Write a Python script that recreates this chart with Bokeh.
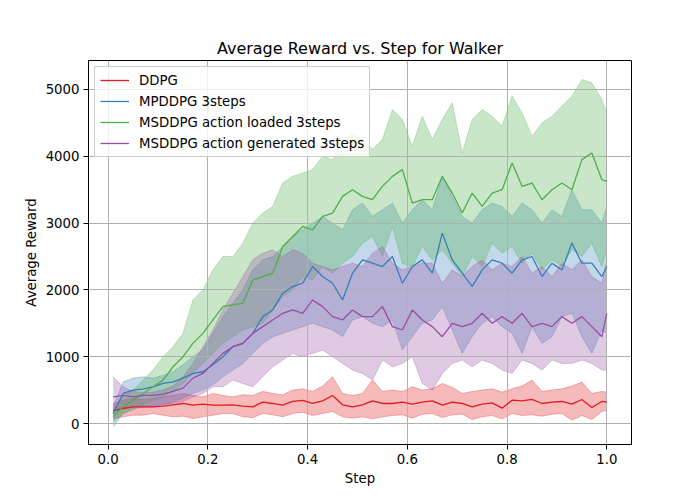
from bokeh.plotting import figure
from bokeh.models import FixedTicker, Range1d, Label
from bokeh.embed import file_html
from bokeh.resources import INLINE

steps = [10000 + 20000 * i for i in range(50)] + [1000000]

ddpg_mean = [190, 225, 250, 250, 250, 260, 280, 300, 275, 290, 275, 275, 280,
             260, 250, 320, 300, 275, 330, 345, 300, 340, 420, 280, 250, 280,
             340, 300, 300, 320, 290, 320, 340, 275, 320, 300, 250, 290, 310,
             230, 350, 340, 360, 300, 320, 330, 290, 360, 240, 330, 320]
ddpg_upper = [300, 350, 375, 360, 375, 400, 425, 450, 420, 400, 450, 420, 400,
              430, 420, 480, 450, 430, 500, 520, 480, 560, 700, 450, 420, 450,
              650, 480, 500, 480, 550, 500, 520, 600, 540, 450, 480, 500, 520,
              470, 520, 560, 650, 480, 500, 520, 560, 620, 450, 480, 470]
ddpg_lower = [75, 100, 125, 125, 150, 125, 100, 110, 75, 100, 125, 150, 150,
              100, 90, 150, 130, 100, 150, 170, 120, 150, 180, 100, 80, 100,
              70, 100, 120, 130, 80, 140, 150, 90, 130, 140, 60, 100, 120,
              70, 150, 120, 130, 110, 140, 150, 50, 120, 60, 180, 200]

mp_mean = [150, 450, 500, 520, 550, 600, 625, 680, 750, 775, 880, 1000, 1150,
           1200, 1350, 1600, 1700, 1950, 2050, 2100, 2350, 2200, 2100, 1850, 2250, 2450,
           2400, 2350, 2500, 2100, 2350, 2450, 2250, 2850, 2450, 2250, 2050, 2300, 2450,
           2400, 2250, 2450, 2500, 2200, 2400, 2300, 2700, 2400, 2400, 2200, 2350]
mp_upper = [250, 620, 680, 700, 680, 720, 780, 880, 1000, 1100, 1350, 1600, 1800,
            2000, 2300, 2450, 2500, 2650, 2800, 2900, 3000, 3100, 3000, 2900, 3200, 3300,
            3100, 3200, 3300, 3000, 3200, 3350, 3200, 3700, 3400, 3100, 3000, 3200, 3300,
            3250, 3100, 3300, 3200, 3000, 3200, 3100, 3500, 3200, 3200, 3000, 3250]
mp_lower = [-50, 150, 225, 240, 250, 280, 320, 380, 450, 500, 580, 700, 800,
            900, 1050, 1200, 1300, 1350, 1400, 1450, 1500, 1450, 1400, 1300, 1550, 1600,
            1500, 1450, 1550, 1100, 1300, 1500, 1550, 1750, 1400, 1050, 1300, 1500, 1600,
            1450, 1350, 1050, 1450, 1200, 1300, 1600, 1650, 1300, 1050, 1400, 1350]

msl_mean = [100, 250, 350, 450, 550, 650, 850, 1000, 1200, 1350, 1550, 1750, 1780,
            1800, 2150, 2200, 2250, 2650, 2800, 2950, 2900, 3100, 3150, 3400, 3500, 3400,
            3350, 3550, 3700, 3800, 3300, 3350, 3350, 3700, 3450, 3150, 3450, 3250, 3450,
            3500, 3900, 3550, 3600, 3350, 3500, 3600, 3500, 3950, 4050, 3650, 3625]
msl_upper = [200, 400, 500, 650, 800, 1000, 1150, 1350, 1850, 2000, 2300, 2500, 2500,
             2700, 3000, 3150, 3250, 3600, 3700, 3750, 3800, 4000, 3950, 4200, 4350, 4250,
             4100, 4250, 4700, 4550, 4150, 4600, 4250, 4550, 4800, 4050, 4550, 4700, 4600,
             4450, 4900, 4650, 4300, 4500, 4600, 4750, 4900, 5150, 5100, 4850, 4650]
msl_lower = [25, 150, 200, 280, 350, 400, 480, 600, 750, 900, 1050, 1200, 1300,
             1400, 1450, 1500, 1700, 1900, 2000, 2200, 2150, 2350, 2250, 2400, 2500, 2700,
             2800, 2500, 2950, 2400, 2350, 2650, 2450, 2600, 2400, 2200, 2500, 2350, 2700,
             2550, 2650, 2400, 2550, 2300, 2450, 2350, 2600, 2500, 2700, 2350, 2600]

msg_mean = [400, 420, 400, 420, 420, 440, 480, 530, 680, 750, 900, 1050, 1150,
            1200, 1350, 1450, 1550, 1650, 1700, 1650, 1850, 1750, 1600, 1550, 1700, 1600,
            1600, 1750, 1450, 1400, 1700, 1550, 1450, 1300, 1500, 1450, 1500, 1650, 1500,
            1600, 1500, 1650, 1450, 1500, 1450, 1600, 1500, 1600, 1450, 1300, 1650]
msg_upper = [700, 550, 480, 460, 470, 500, 560, 700, 900, 1150, 1400, 1700, 1950,
             2200, 2450, 2550, 2600, 2500, 2600, 2550, 2400, 2350, 2300, 2350, 2400, 2350,
             2550, 2650, 2400, 2300, 2350, 2400, 2400, 2100, 2300, 2200, 2350, 2450, 2300,
             2400, 2350, 2500, 2250, 2350, 2200, 2400, 2300, 2450, 2200, 2100, 2450]
msg_lower = [200, 230, 250, 260, 270, 290, 300, 330, 400, 450, 550, 550, 650,
             600, 550, 700, 850, 950, 1050, 1000, 1050, 1100, 1000, 900, 800, 750,
             650, 950, 850, 900, 1000, 600, 500, 750, 900, 950, 850, 950, 900,
             800, 750, 950, 900, 800, 950, 900, 900, 950, 900, 800, 800]

names = ["DDPG", "MPDDPG 3steps", "MSDDPG action loaded 3steps", "MSDDPG action generated 3steps"]
colors = ["#e41a1c", "#377eb8", "#4daf4a", "#984ea3"]
means = [ddpg_mean, mp_mean, msl_mean, msg_mean]
uppers = [ddpg_upper, mp_upper, msl_upper, msg_upper]
lowers = [ddpg_lower, mp_lower, msl_lower, msg_lower]

x_ticks = [0, 200000, 400000, 600000, 800000, 1000000]
x_tick_labels = ["0.0", "0.2", "0.4", "0.6", "0.8", "1.0"]
y_ticks = [0, 1000, 2000, 3000, 4000, 5000]

FONT = "DejaVu Sans"

p = figure(width=692, height=492, output_backend="svg", toolbar_location=None,
           x_range=Range1d(-39500, 1049500), y_range=Range1d(-314, 5434),
           min_border_left=88, min_border_right=61, min_border_top=60, min_border_bottom=48,
           title="Average Reward vs. Step for Walker")
p.background_fill_color = "white"
p.border_fill_color = "white"
p.outline_line_color = "black"
p.outline_line_alpha = 1
p.outline_line_width = 1

p.title.text_font = FONT
p.title.text_font_size = "16px"
p.title.text_font_style = "normal"
p.title.text_color = "black"
p.title.align = "center"
p.title.standoff = 5

for c, lo, hi in zip(colors, lowers, uppers):
    r = p.varea(x=steps, y1=lo, y2=hi, fill_color=c, fill_alpha=0.3)
    r.level = "image"
    for edge in (lo, hi):
        e = p.line(steps, edge, line_color=c, line_alpha=0.3, line_width=1)
        e.level = "image"

for c, m, n in zip(colors, means, names):
    p.line(steps, m, line_color=c, line_width=1.3, legend_label=n)

p.xaxis.ticker = FixedTicker(ticks=x_ticks)
p.xaxis.major_label_overrides = {t: s for t, s in zip(x_ticks, x_tick_labels)}
p.yaxis.ticker = FixedTicker(ticks=y_ticks)
p.xgrid.ticker = FixedTicker(ticks=x_ticks)
p.ygrid.ticker = FixedTicker(ticks=y_ticks)
for g in (p.xgrid, p.ygrid):
    g.grid_line_color = "#b0b0b0"
    g.grid_line_width = 1
    g.grid_line_alpha = 1

p.xaxis.axis_label = "Step"
p.yaxis.axis_label = "Average Reward"
for ax in (p.xaxis, p.yaxis):
    ax.axis_label_text_font = FONT
    ax.axis_label_text_font_size = "13.3px"
    ax.axis_label_text_font_style = "normal"
    ax.axis_label_text_color = "black"
    ax.axis_label_standoff = 4
    ax.major_label_text_font = FONT
    ax.major_label_text_font_size = "13.3px"
    ax.major_label_text_color = "black"
    ax.major_label_standoff = 4
    ax.major_tick_out = 5
    ax.major_tick_in = 0
    ax.major_tick_line_color = "black"
    ax.minor_tick_line_color = None
    ax.axis_line_color = "black"

p.add_layout(Label(x=1044000, y=-848, text="1e6", text_align="right", text_baseline="middle",
                   text_font=FONT, text_font_size="13.3px", text_color="black"))

lg = p.legend[0]
lg.location = "top_left"
lg.label_text_font = FONT
lg.label_text_font_size = "13.3px"
lg.label_text_color = "black"
lg.glyph_width = 29
lg.glyph_height = 16
lg.label_height = 16
lg.spacing = 5
lg.padding = 5
lg.margin = 6
lg.label_standoff = 10
lg.border_line_color = "#cccccc"
lg.border_line_alpha = 1
lg.background_fill_alpha = 0.8

open("out.html", "w").write(file_html(p, INLINE))
